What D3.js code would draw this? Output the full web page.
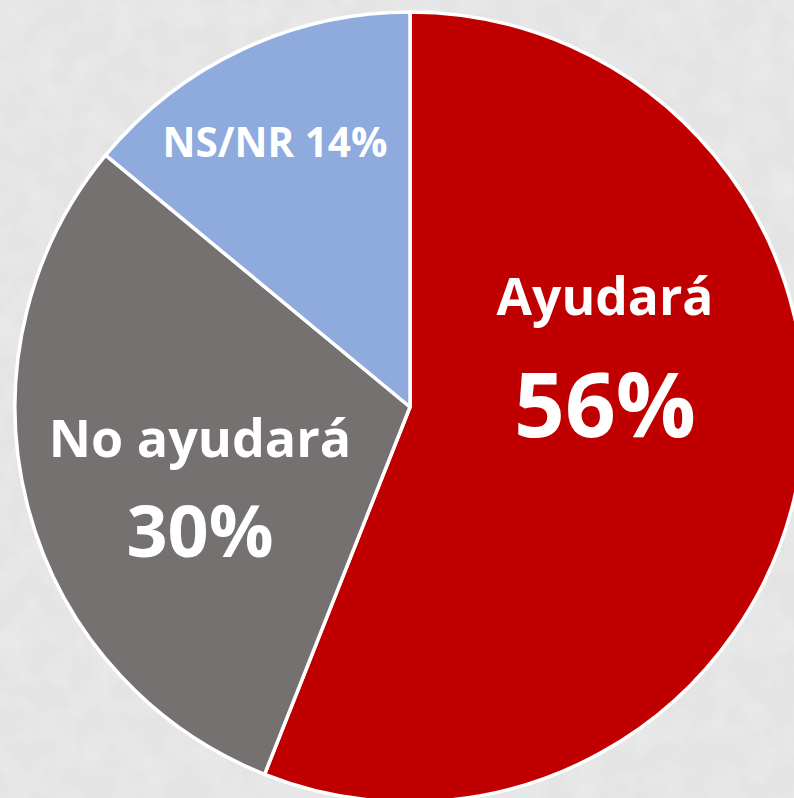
<!DOCTYPE html>
<html>
<head>
<meta charset="utf-8">
<script src="https://cdn.jsdelivr.net/npm/d3@7"></script>
<style>
  html, body { margin: 0; padding: 0; background: #e6e6e6; }
  svg { display: block; }
</style>
</head>
<body>
<div id="chart"></div>
<script>
// datos
var categorias = ["Ayudará", "No ayudará", "NS/NR"];
var valores = [56, 30, 14];
var colores = ["#C00000", "#767171", "#8FAADC"];

var width = 794, height = 798;
var cx = 410, cy = 407, radio = 395;

var svg = d3.select("#chart").append("svg")
  .attr("width", width)
  .attr("height", height);

// fondo con textura suave
var defs = svg.append("defs");
var filtro = defs.append("filter").attr("id", "textura")
  .attr("x", 0).attr("y", 0).attr("width", "100%").attr("height", "100%");
filtro.append("feTurbulence")
  .attr("type", "fractalNoise")
  .attr("baseFrequency", 0.035)
  .attr("numOctaves", 3)
  .attr("seed", 4)
  .attr("result", "ruido");
filtro.append("feColorMatrix")
  .attr("in", "ruido")
  .attr("type", "matrix")
  .attr("values", "0 0 0 0 0.90  0 0 0 0 0.90  0 0 0 0 0.90  0 0 0 -0.9 0.55");
filtro.append("feComposite").attr("operator", "in").attr("in2", "SourceGraphic");

svg.append("rect").attr("width", width).attr("height", height).attr("fill", "#e4e4e4");
svg.append("rect").attr("width", width).attr("height", height).attr("fill", "#f4f4f4")
  .attr("filter", "url(#textura)").attr("opacity", 0.9);

var pie = d3.pie().sort(null).value(function(d) { return d; });
var arc = d3.arc().innerRadius(0).outerRadius(radio);

var g = svg.append("g").attr("transform", "translate(" + cx + "," + cy + ")");

g.selectAll("path")
  .data(pie(valores))
  .enter()
  .append("path")
    .attr("d", arc)
    .attr("fill", function(d, i) { return colores[i]; })
    .attr("stroke", "#ffffff")
    .attr("stroke-width", 3.5)
    .attr("stroke-linejoin", "round");

// etiquetas (posición relativa al centro, como en la diapositiva)
var etiquetas = [
  { lineas: [categorias[0], valores[0] + "%"], x: 195, y: [-92, 30], size: [51.5, 89] },
  { lineas: [categorias[1], valores[1] + "%"], x: -210, y: [50, 150], size: [52, 72] },
  { lineas: [categorias[2] + " " + valores[2] + "%"], x: -135, y: [-250], size: [40.5] }
];

etiquetas.forEach(function(et) {
  et.lineas.forEach(function(txt, j) {
    g.append("text")
      .attr("x", et.x)
      .attr("y", et.y[j])
      .attr("text-anchor", "middle")
      .attr("fill", "#ffffff")
      .style("font-family", "'Open Sans', sans-serif")
      .style("font-weight", 700)
      .style("font-size", et.size[j] + "px")
      .text(txt);
  });
});
</script>
</body>
</html>
